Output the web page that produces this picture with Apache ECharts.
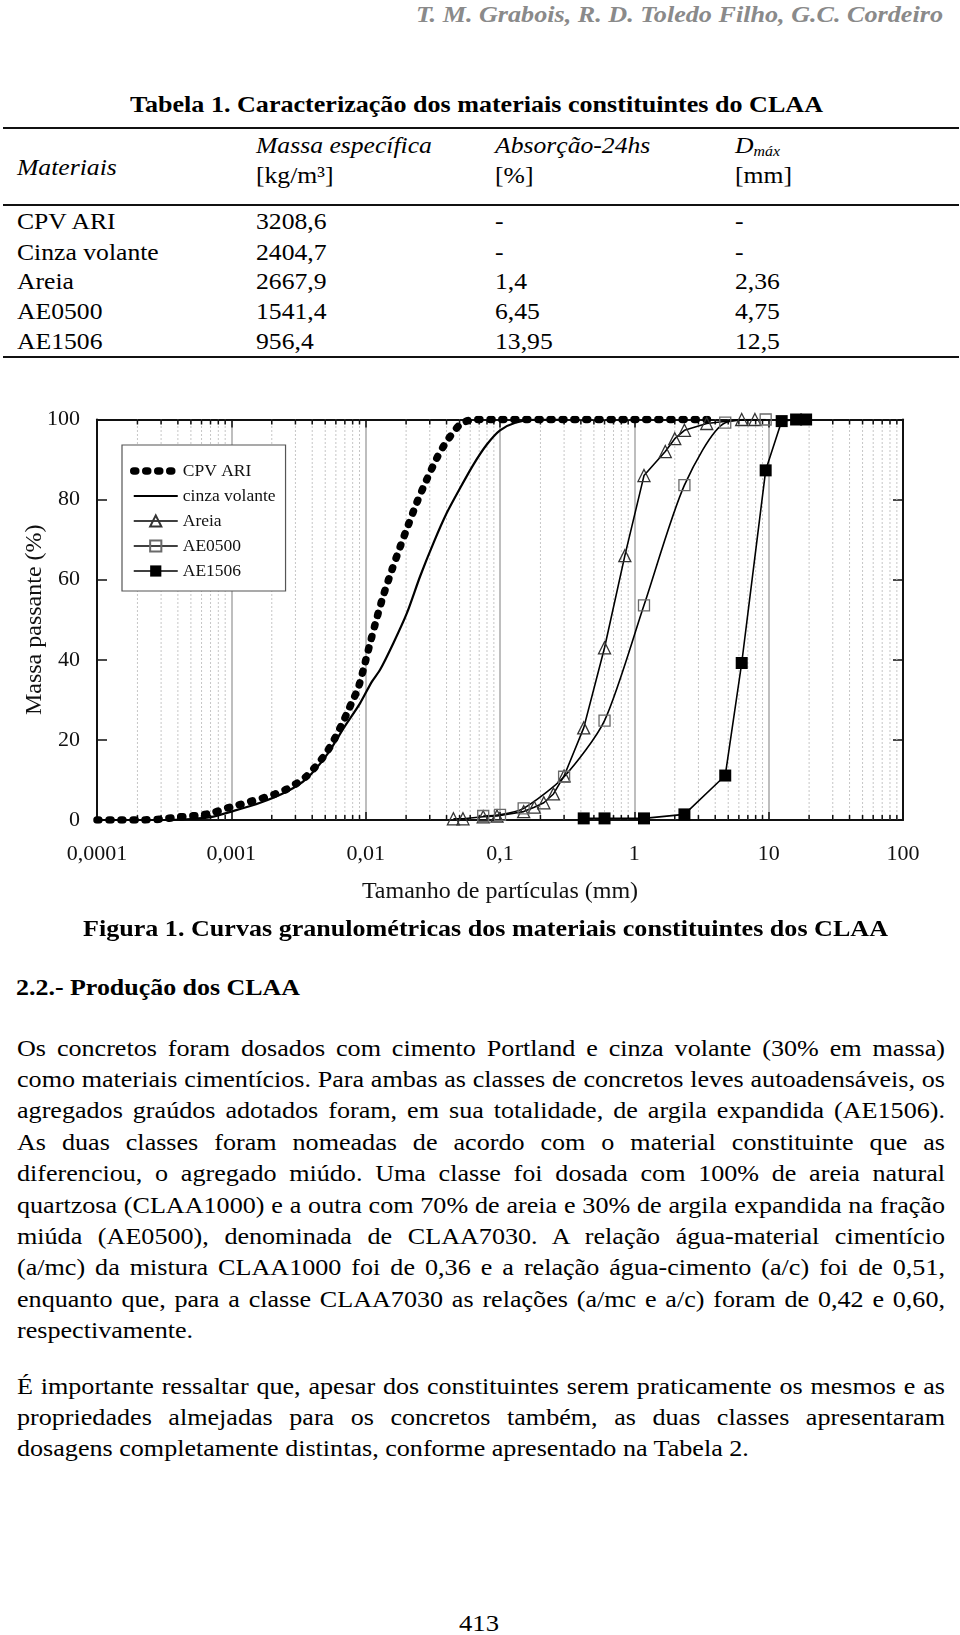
<!DOCTYPE html>
<html>
<head>
<meta charset="utf-8">
<script src="https://cdn.jsdelivr.net/npm/echarts@6/dist/echarts.min.js"></script>
<style>
  html, body { margin:0; padding:0; background:#fff; }
  body { width:960px; height:1635px; position:relative; overflow:hidden; }
  .t { position:absolute; white-space:nowrap; line-height:1.12; transform-origin:0 0;
       font-family:'Liberation Serif','Times New Roman',serif; color:#000; }
  .t sub { font-size:0.62em; vertical-align:-0.25em; }
  .rule { position:absolute; background:#111; }
  #chart { position:absolute; left:0; top:380px; width:960px; height:540px; }
</style>
</head>
<body>
<div id="chart"></div>
<script>
// ---------------- DATA ----------------
const tableHead = ['Materiais', 'Massa específica', 'Absorção-24hs', 'D'];
const tableUnits = ['', '[kg/m³]', '[%]', '[mm]'];
const tableMaterials = ['CPV ARI', 'Cinza volante', 'Areia', 'AE0500', 'AE1506'];
const tableDensity = ['3208,6', '2404,7', '2667,9', '1541,4', '956,4'];
const tableAbsorption = ['-', '-', '1,4', '6,45', '13,95'];
const tableDmax = ['-', '-', '2,36', '4,75', '12,5'];

const seriesNames = ['CPV ARI', 'cinza volante', 'Areia', 'AE0500', 'AE1506'];
const xTickLabels = ['0,0001', '0,001', '0,01', '0,1', '1', '10', '100'];

// particle size (mm) and % passing
const cpvX = [0.0001,0.00015,0.0002,0.0003,0.000394,0.0006,0.00074,0.00091,0.00113,0.00138,0.00169,0.00212,0.00259,0.00308,0.00365,0.0042,0.00485,0.00544,0.00603,0.00665,0.0073,0.00798,0.00875,0.0096,0.0108,0.0121,0.0136,0.0157,0.0181,0.0208,0.024,0.0285,0.0339,0.0402,0.0505,0.0634,0.1,0.3,1,3.5];
const cpvY = [0,0,0,0.2,0.7,1.25,1.9,2.9,3.75,4.6,5.4,6.5,7.7,9.2,11,13.2,15.8,18.3,21,23.9,26.8,29.75,32.7,37.5,44.2,50.4,56.25,62.5,68.3,73.75,79.2,85,90.4,94.6,98.75,100,100,100,100,100];

const cinzaX = [0.0001,0.0003,0.0005,0.0007,0.001,0.00164,0.00259,0.00365,0.00514,0.00684,0.0091,0.0111,0.0128,0.0161,0.0203,0.0254,0.032,0.0402,0.0505,0.0634,0.0798,0.1,0.13,0.186,0.3];
const cinzaY = [0,0,0.25,0.7,2.1,4.3,7.1,10.4,16.25,22.9,29.2,34.5,37.5,44.2,51.7,60.8,69.2,76.7,82.9,88.75,93.75,97.3,99.2,100,100];

const areiaX = [0.045,0.053,0.075,0.095,0.15,0.18,0.212,0.25,0.3,0.42,0.6,0.85,1.18,1.7,2.0,2.36,3.46,6.3,7.9];
const areiaY = [0.3,0.3,0.8,1.0,2.1,3.2,4.3,6.5,11,23,43,66,86,92,95.2,97.3,99,100,100];

const ae0500X = [0.075,0.1,0.15,0.3,0.6,1.18,2.36,4.75,9.5];
const ae0500Y = [1.0,1.3,2.9,10.8,24.8,53.6,83.6,99.2,100];

const ae1506X = [0.42,0.6,1.18,2.36,4.75,6.3,9.5,12.5,16,19];
const ae1506Y = [0.4,0.4,0.4,1.4,11.1,39.2,87.3,99.6,100,100];

// ---------------- PAGE TEXT ----------------
const FS = 22.5, S = 1.14, SB = 1.16;
function addText(html, o) {
  const el = document.createElement('div');
  el.className = 't';
  el.innerHTML = html;
  const size = o.size || FS;
  el.style.fontSize = size + 'px';
  if (o.bold) el.style.fontWeight = 'bold';
  if (o.italic) el.style.fontStyle = 'italic';
  if (o.color) el.style.color = o.color;
  document.body.appendChild(el);
  const w = el.getBoundingClientRect().width;
  let s = o.scale || S;
  if (o.justify) {
    s = Math.min(s, (o.x2 - o.x1) / w);
    el.style.width = ((o.x2 - o.x1) / s) + 'px';
    el.style.whiteSpace = 'normal';
    el.style.textAlign = 'justify';
    el.style.textAlignLast = 'justify';
  } else if (o.x2 !== undefined) {
    s = (o.x2 - o.x1) / w;
  }
  el.style.left = o.x1 + 'px';
  el.style.top = (o.yc - size * 0.57) + 'px';
  el.style.transform = 'scaleX(' + s + ')';
}
function addRule(y, h) {
  const r = document.createElement('div');
  r.className = 'rule';
  r.style.left = '3px'; r.style.width = '956px';
  r.style.top = (y - h / 2) + 'px'; r.style.height = h + 'px';
  document.body.appendChild(r);
}

addText('T. M. Grabois, R. D. Toledo Filho, G.C. Cordeiro', {x1:416, x2:943, yc:15, size:23, bold:true, italic:true, color:'#8a8a8a'});
addText('Tabela 1. Caracterização dos materiais constituintes do CLAA', {x1:130, x2:823, yc:105, bold:true});
addRule(128, 2); addRule(205, 1.6); addRule(357, 2);

const colX = [17, 256, 495, 735];
addText(tableHead[0], {x1:colX[0], yc:168, italic:true});
addText(tableHead[1], {x1:colX[1], yc:146, italic:true});
addText(tableHead[2], {x1:colX[2], yc:146, italic:true});
addText('<i>' + tableHead[3] + '</i><sub><i>máx</i></sub>', {x1:colX[3], yc:146});
for (let c = 1; c < 4; c++) addText(tableUnits[c], {x1:colX[c], yc:176});
const rowY = [222, 252.5, 282, 312, 342];
for (let r = 0; r < 5; r++) {
  addText(tableMaterials[r], {x1:colX[0], yc:rowY[r]});
  addText(tableDensity[r], {x1:colX[1], yc:rowY[r]});
  addText(tableAbsorption[r], {x1:colX[2], yc:rowY[r]});
  addText(tableDmax[r], {x1:colX[3], yc:rowY[r]});
}

addText('Figura 1. Curvas granulométricas dos materiais constituintes dos CLAA', {x1:83, x2:888, yc:928.5, bold:true});
addText('2.2.- Produção dos CLAA', {x1:16, x2:300, yc:988, bold:true});

const para1 = [
  'Os concretos foram dosados com cimento Portland e cinza volante (30% em massa)',
  'como materiais cimentícios. Para ambas as classes de concretos leves autoadensáveis, os',
  'agregados graúdos adotados foram, em sua totalidade, de argila expandida (AE1506).',
  'As duas classes foram nomeadas de acordo com o material constituinte que as',
  'diferenciou, o agregado miúdo. Uma classe foi dosada com 100% de areia natural',
  'quartzosa (CLAA1000) e a outra com 70% de areia e 30% de argila expandida na fração',
  'miúda (AE0500), denominada de CLAA7030. A relação água-material cimentício',
  '(a/mc) da mistura CLAA1000 foi de 0,36 e a relação água-cimento (a/c) foi de 0,51,',
  'enquanto que, para a classe CLAA7030 as relações (a/mc e a/c) foram de 0,42 e 0,60,',
  'respectivamente.'
];
para1.forEach((line, i) => {
  const last = i === para1.length - 1;
  addText(line, last ? {x1:17, yc:1048.5 + i * 31.4, scale:SB} : {x1:17, x2:945, yc:1048.5 + i * 31.4, justify:true, scale:SB});
});
const para2 = [
  'É importante ressaltar que, apesar dos constituintes serem praticamente os mesmos e as',
  'propriedades almejadas para os concretos também, as duas classes apresentaram',
  'dosagens completamente distintas, conforme apresentado na Tabela 2.'
];
para2.forEach((line, i) => {
  const last = i === para2.length - 1;
  addText(line, last ? {x1:17, yc:1387 + i * 31, scale:SB} : {x1:17, x2:945, yc:1387 + i * 31, justify:true, scale:SB});
});
addText('413', {x1:459, x2:499, yc:1624});

// ---------------- CHART ----------------
const FONT = "'Liberation Serif','Times New Roman',serif";
const zip = (xs, ys) => xs.map((x, i) => [x, ys[i]]);
const minorX = [];
for (let k = -4; k <= 1; k++) for (let m = 2; m <= 9; m++) minorX.push(Number((m * Math.pow(10, k)).toPrecision(3)));

const axisLineStyle = { color:'#111', width:2 };
const hiddenSymbol = { color:'rgba(0,0,0,0)', borderWidth:0, borderColor:'rgba(0,0,0,0)' };
const chart = echarts.init(document.getElementById('chart'));
chart.setOption({
  animation: false,
  grid: { left:97, top:39.5, width:806, height:400.5 },
  legend: {
    data: [
      { name:seriesNames[0], itemStyle:hiddenSymbol, lineStyle:{ width:7.5, type:[2, 10], cap:'round', color:'#000' } },
      { name:seriesNames[1], itemStyle:hiddenSymbol, lineStyle:{ width:2.2, color:'#000' } },
      { name:seriesNames[2], lineStyle:{ width:1.6, color:'#000' } },
      { name:seriesNames[3], lineStyle:{ width:1.6, color:'#000' } },
      { name:seriesNames[4], lineStyle:{ width:1.6, color:'#000' } }
    ],
    orient:'vertical', left:122, top:65,
    padding:[16,10,10,8], itemGap:5, itemWidth:44, itemHeight:14,
    backgroundColor:'#fff', borderColor:'#555', borderWidth:1.2, borderRadius:0,
    textStyle:{ fontFamily:FONT, fontSize:17.5, color:'#111', lineHeight:20 }
  },
  xAxis: [
    { type:'log', logBase:10, min:0.0001, max:100, position:'bottom',
      axisLine:{ show:true, onZero:false, lineStyle:axisLineStyle },
      axisTick:{ show:true, inside:true, length:8, lineStyle:{ color:'#111', width:1.5 } },
      axisLabel:{ fontFamily:FONT, fontSize:22, color:'#111', margin:23,
        formatter: v => xTickLabels[Math.round(Math.log10(v)) + 4] },
      splitLine:{ show:true, lineStyle:{ color:'#a8a8a8', width:1.5 } },
      name:'Tamanho de partículas (mm)', nameLocation:'middle', nameGap:60,
      nameTextStyle:{ fontFamily:FONT, fontSize:24, color:'#111' } },
    { type:'log', logBase:10, min:0.0001, max:100, position:'top',
      axisLine:{ show:true, onZero:false, lineStyle:axisLineStyle },
      axisTick:{ show:true, inside:true, length:8, lineStyle:{ color:'#111', width:1.5 } },
      axisLabel:{ show:false }, splitLine:{ show:false } }
  ],
  yAxis: [
    { type:'value', min:0, max:100, interval:20, position:'left',
      axisLine:{ show:true, onZero:false, lineStyle:axisLineStyle },
      axisTick:{ show:true, inside:true, length:10, lineStyle:{ color:'#111', width:1.5 } },
      axisLabel:{ fontFamily:FONT, fontSize:22, color:'#111', margin:17 },
      splitLine:{ show:false },
      name:'Massa passante (%)', nameLocation:'middle', nameGap:50, nameRotate:90, nameMoveOverlap:false,
      nameTextStyle:{ fontFamily:FONT, fontSize:24, color:'#111' } },
    { type:'value', min:0, max:100, interval:20, position:'right',
      axisLine:{ show:true, onZero:false, lineStyle:axisLineStyle },
      axisTick:{ show:true, inside:true, length:10, lineStyle:{ color:'#111', width:1.5 } },
      axisLabel:{ show:false }, splitLine:{ show:false } }
  ],
  series: [
    { type:'custom', name:'minor', silent:true, z:1, clip:false,
      data: minorX.map(v => [v, 0]), encode:{ x:0, y:1 },
      renderItem: function (params, api) {
        const x = api.value(0);
        const b = api.coord([x, 0]), t = api.coord([x, 100]);
        return { type:'group', children:[
          { type:'line', shape:{ x1:b[0], y1:b[1], x2:t[0], y2:t[1] }, style:{ stroke:'#c6c6c6', lineWidth:1, lineDash:[2,2] } },
          { type:'line', shape:{ x1:b[0], y1:b[1], x2:b[0], y2:b[1] - 5 }, style:{ stroke:'#111', lineWidth:1.5 } },
          { type:'line', shape:{ x1:t[0], y1:t[1], x2:t[0], y2:t[1] + 5 }, style:{ stroke:'#111', lineWidth:1.5 } }
        ]};
      } },
    { name:seriesNames[0], type:'line', data:zip(cpvX, cpvY), smooth:0.25, symbol:'none', z:3,
      itemStyle:{ color:'#000' }, lineStyle:{ color:'#000', width:7.5, type:[2, 10], cap:'round' } },
    { name:seriesNames[1], type:'line', data:zip(cinzaX, cinzaY), smooth:0.25, symbol:'none', z:3,
      itemStyle:{ color:'#000' }, lineStyle:{ color:'#000', width:2.2 } },
    { name:seriesNames[2], type:'line', data:zip(areiaX, areiaY), symbol:'triangle', symbolSize:12, z:4,
      itemStyle:{ color:'rgba(255,255,255,0)', borderColor:'#333', borderWidth:1.3 },
      lineStyle:{ color:'#000', width:1.6 } },
    { name:seriesNames[3], type:'line', data:zip(ae0500X, ae0500Y), symbol:'rect', symbolSize:11, z:4,
      smooth:0.25,
      itemStyle:{ color:'rgba(255,255,255,0)', borderColor:'#6a6a6a', borderWidth:1.3 },
      lineStyle:{ color:'#000', width:1.6 } },
    { name:seriesNames[4], type:'line', data:zip(ae1506X, ae1506Y), symbol:'rect', symbolSize:12, z:4,
      itemStyle:{ color:'#000' }, lineStyle:{ color:'#000', width:1.6 } }
  ]
});
</script>
</body>
</html>
